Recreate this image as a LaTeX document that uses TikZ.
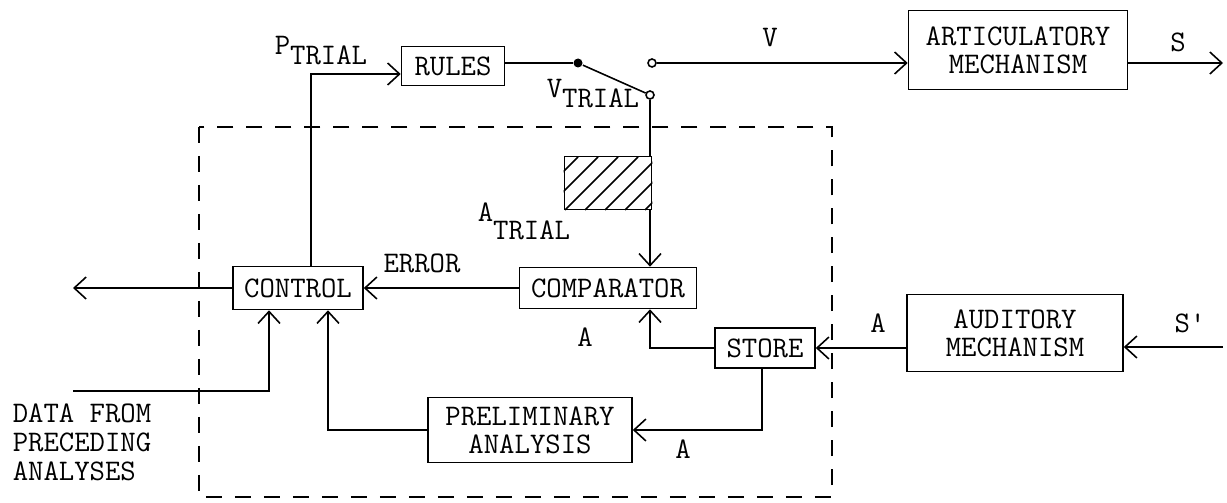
\documentclass[tikz,border=0pt]{standalone}
\usepackage{fontspec}
\usetikzlibrary{arrows.meta}

\begin{document}
\begin{tikzpicture}[x=0.02cm, y=0.02cm, line width=0.9pt, >={Straight Barb[length=2.4mm,width=4.4mm]}]
	\tikzstyle{every node}+=[inner sep=0pt, font=\ttfamily\fontsize{17}{16}\selectfont]
	\tikzstyle{block}=[draw, align=center]
	\tikzstyle{contact}=[draw, circle, minimum size=0.16cm]
	\useasboundingbox (0,0) rectangle (1227,-503);

	% boxes
	\node [block, minimum width=2.06cm, minimum height=0.78cm] (rules) at (453,-66) {RULES};
	\node [block, minimum width=2.6cm, minimum height=0.86cm] (control) at (298,-288) {CONTROL};
	\node [block, minimum width=3.54cm, minimum height=0.82cm] (comp) at (608,-288) {COMPARATOR};
	\node [block, minimum width=2.0cm, minimum height=0.8cm] (store) at (765,-348) {STORE};
	\node [block, minimum width=4.08cm, minimum height=1.3cm] (prelim) at (530,-430) {PRELIMINARY\\ ANALYSIS};
	\node [block, minimum width=4.38cm, minimum height=1.58cm] (artic) at (1018,-50) {ARTICULATORY\\ MECHANISM};
	\node [block, minimum width=4.32cm, minimum height=1.54cm] (audit) at (1015,-333) {AUDITORY\\ MECHANISM};
	\node [block, minimum width=1.74cm, minimum height=1.06cm] (hatch) at (608,-183) {};
	\begin{scope}
		\clip (hatch.south west) rectangle (hatch.north east);
		\foreach \x in {525,545,...,665}
			\draw (\x,-210) -- ++(53,53);
	\end{scope}

	% switch
	\node [circle, fill, minimum size=0.18cm] (pivot) at (578,-63) {};
	\node [contact] (vout) at (652,-63) {};
	\node [contact] (vtry) at (650,-95) {};
	\coordinate (sout) at (1223,-63);
	\coordinate (sin) at (1223,-347);
	\coordinate (dout) at (73,-288);
	\coordinate (din) at (73,-391);

	% dashed enclosure
	\draw [dash pattern=on 0.33cm off 0.25cm] (199,-127) rectangle (832,-497);

	% connectors
	\draw [->] ([xshift=0.26cm]control.north) |- ([yshift=-0.16cm]rules.west);
	\draw (rules.east |- pivot) -- (pivot);
	\draw (pivot) -- (vtry);
	\draw (vtry) -- (vtry |- hatch.north);
	\draw [->] (vtry |- hatch.south) -- (vtry |- comp.north);
	\draw [->] (vout) -- (vout -| artic.west);
	\draw [->] (sout -| artic.east) -- (sout);
	\draw [->] (sin) -- (sin -| audit.east);
	\draw [->] (audit.west |- store.east) -- (store.east);
	\draw [->] (store.west) -| (vtry |- comp.south);
	\draw [->] ([xshift=-0.06cm]store.south) |- (prelim.east);
	\draw [->] (prelim.west) -| ([xshift=0.6cm]control.south);
	\draw [->] (din) -| ([xshift=-0.58cm]control.south);
	\draw [->] (control.west) -- (dout);
	\draw [->] (comp.west) -- (control.east);

	% labels
	\node [anchor=base west] (ptrial) at (274,-55) {P\raisebox{-5.5pt}{TRIAL}};
	\node [anchor=base west] (vtrial) at (546,-98) {V\raisebox{-5.5pt}{TRIAL}};
	\node [anchor=base west] (atrial) at (477,-222) {A\raisebox{-10pt}{TRIAL}};
	\node (error) at (422,-263) {ERROR};
	\node (vlab) at (770,-38) {V};
	\node (slab) at (1178,-42) {S};
	\node (alab) at (878,-323) {A};
	\node (sdash) at (1190,-323) {S'};
	\node (acomp) at (585,-337) {A};
	\node (aprelim) at (683,-449) {A};
	\node [align=left, anchor=west, font=\ttfamily\fontsize{17}{16.5}\selectfont] (data) at (12,-442) {DATA FROM\\PRECEDING\\ANALYSES};
\end{tikzpicture}
\end{document}
